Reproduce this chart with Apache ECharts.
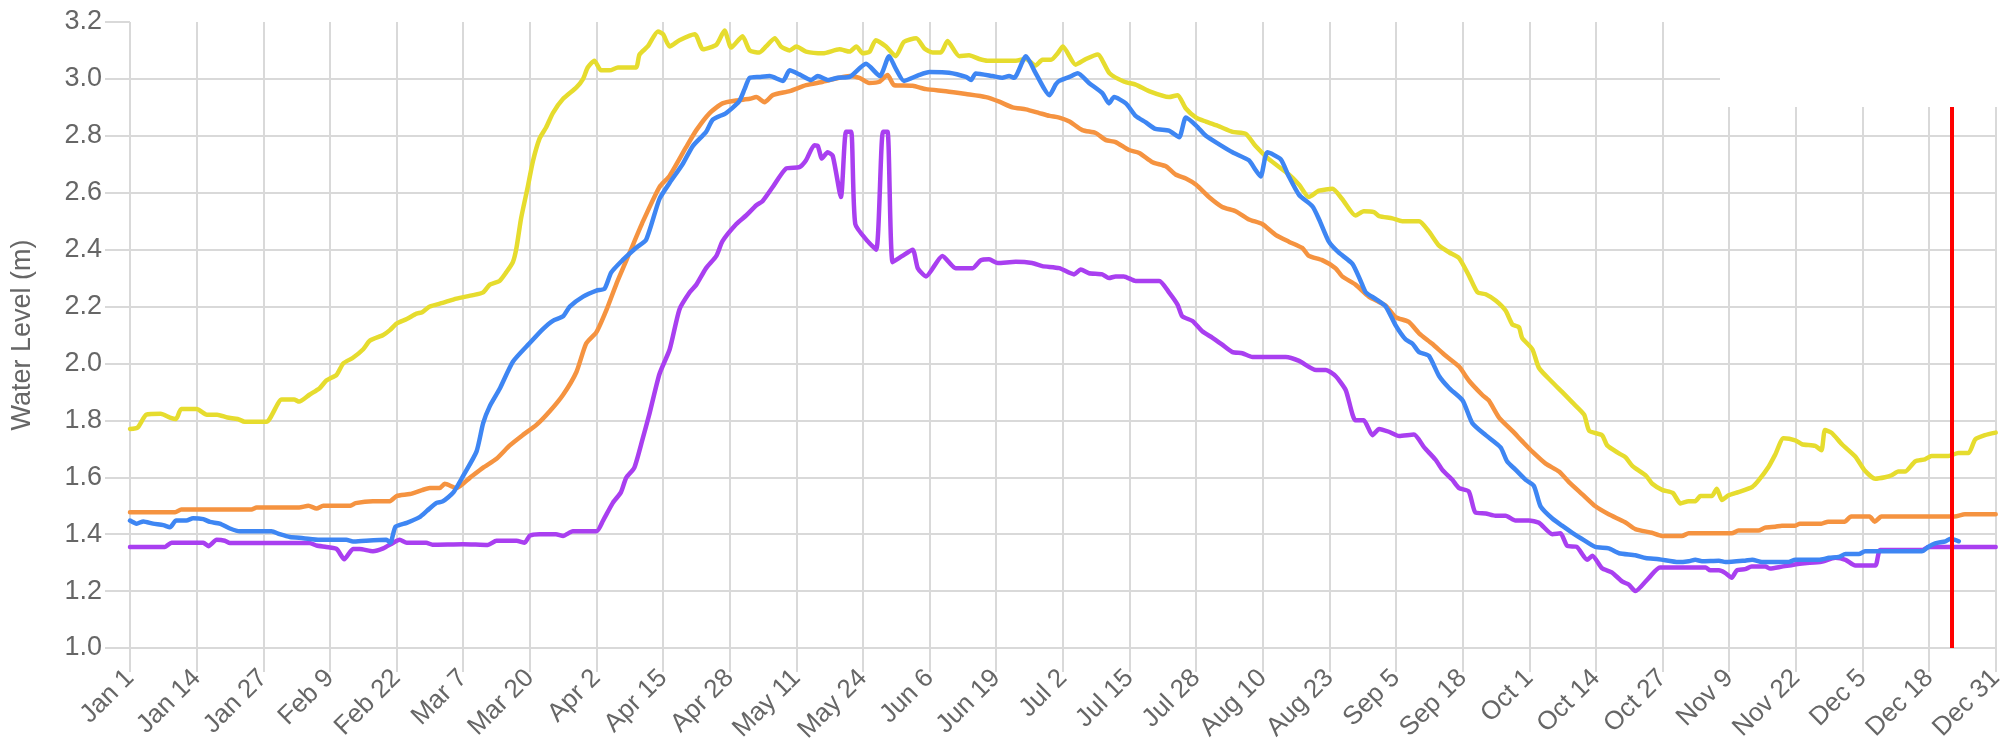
<!DOCTYPE html>
<html>
<head>
<meta charset="utf-8">
<script src="https://cdn.jsdelivr.net/npm/echarts@6/dist/echarts.min.js"></script>
<style>
html,body{margin:0;padding:0;background:#fff;}
#chart{width:2007px;height:752px;}
</style>
</head>
<body>
<div id="chart"></div>
<script>
// Tick labels (every 13 days from Jan 1)
const tickLabels = ['Jan 1','Jan 14','Jan 27','Feb 9','Feb 22','Mar 7','Mar 20','Apr 2','Apr 15','Apr 28','May 11','May 24','Jun 6','Jun 19','Jul 2','Jul 15','Jul 28','Aug 10','Aug 23','Sep 5','Sep 18','Oct 1','Oct 14','Oct 27','Nov 9','Nov 22','Dec 5','Dec 18','Dec 31'];
const yTicks = [1.0,1.2,1.4,1.6,1.8,2.0,2.2,2.4,2.6,2.8,3.0,3.2];
const todayMarker = 355.5; // day index of the red vertical line

// Yellow series (day of year index, water level m)
const yellowDays = [0,1.5,3.2,6,7.8,9,10,13,15,17,19,21,22.4,26.6,29.6,32,33,35,37,38.3,40.3,41.6,43.5,45.5,46.8,49.4,50.7,52,54,55.9,57,58.5,61,63.7,66.9,68.9,70.2,72.1,73.4,74.7,75.4,76.3,77.6,78.6,79.9,81.2,82.5,84.5,87.1,88.4,89.3,90.6,91.9,93.6,95.2,98.7,99.4,101,103,104,105.3,107.2,110.2,111.8,114.4,116,117.3,119.5,120.9,122.8,124.1,125.8,127,128.7,130,131.9,135.2,138.4,140.4,141.7,143,144.3,145.5,147.5,149.4,151,153.4,155,156.6,158.2,159.5,161.8,163.7,165.7,167.3,172.8,174.8,176.7,178,179.7,181,182,184.5,186.5,188.8,191.1,194,196.2,198.8,202.7,204.4,206,208,209.9,212.5,215.1,217.7,219.6,222.2,226.1,228.1,230,232,234.6,236.5,239.1,240.7,242.7,243.7,246.3,248.2,251.5,253.4,255.4,257.4,259.3,261.3,262.9,264.5,266.5,268.4,269.7,271,271.6,273.6,274.9,277.5,279.4,281.4,283.7,284.7,287.2,288.2,290.5,291.8,293.1,295.8,297,299,301,302.5,304.1,305.4,306.4,308.6,309.6,310.6,311.9,313.8,316.5,317.7,319.7,321,322.6,324.9,326.2,328.8,330,330.7,332,334,336.6,338.5,340.5,342.4,343.7,345,346.3,348.3,350.2,351.5,354.8,356.7,358.7,360,361.9,364];
const yellowLevels = [1.77,1.775,1.82,1.823,1.81,1.805,1.84,1.84,1.82,1.82,1.81,1.805,1.795,1.795,1.873,1.873,1.866,1.89,1.913,1.94,1.96,2.0,2.02,2.05,2.08,2.10,2.117,2.14,2.156,2.175,2.18,2.20,2.213,2.228,2.24,2.25,2.277,2.29,2.32,2.356,2.406,2.51,2.62,2.71,2.79,2.83,2.88,2.93,2.97,3.0,3.04,3.064,3.03,3.03,3.04,3.04,3.085,3.114,3.167,3.157,3.114,3.136,3.157,3.104,3.12,3.17,3.11,3.15,3.10,3.093,3.114,3.143,3.114,3.10,3.114,3.096,3.09,3.104,3.096,3.114,3.09,3.096,3.136,3.114,3.08,3.13,3.143,3.107,3.093,3.093,3.133,3.08,3.083,3.07,3.064,3.064,3.07,3.047,3.067,3.067,3.09,3.114,3.05,3.07,3.086,3.02,2.99,2.98,2.957,2.936,2.943,2.896,2.864,2.85,2.833,2.814,2.807,2.764,2.718,2.664,2.628,2.585,2.607,2.614,2.578,2.52,2.535,2.532,2.518,2.51,2.50,2.50,2.464,2.414,2.39,2.37,2.306,2.25,2.243,2.22,2.185,2.137,2.127,2.09,2.05,1.984,1.934,1.90,1.863,1.82,1.763,1.748,1.712,1.684,1.67,1.64,1.605,1.577,1.555,1.545,1.508,1.516,1.516,1.534,1.534,1.56,1.52,1.537,1.548,1.566,1.588,1.637,1.68,1.737,1.73,1.716,1.71,1.695,1.766,1.756,1.716,1.673,1.623,1.595,1.60,1.607,1.62,1.62,1.656,1.663,1.675,1.675,1.685,1.685,1.733,1.748,1.757];

// Orange series
const orangeDays = [0,8.8,10,23.7,24.7,33,34.8,36.4,37.7,43,44,47.4,50.7,52,54.6,57,58.5,60.4,61.4,63.7,66.3,68.9,71.5,74.1,76.6,79.3,81.8,84.5,87.1,89,91,93,94.9,97.5,100.1,103.3,105.3,108.5,110.5,113.1,115.6,118.3,120.9,122.2,123.8,125.4,128.7,131.9,135.2,138.4,140.4,142.3,144.2,146.2,147.8,149.1,152.7,155.3,159.2,163.1,167,169.6,172.2,174.8,177.4,179.4,181.3,183.3,185.8,188.4,190.4,192.3,194.9,196.9,199.5,202.1,204,206,208,210.5,213.1,215.7,218.3,220.9,223.5,226.1,228.7,230,232.6,235.2,236.5,239.1,241.7,245,246.9,249.5,251.5,254,256.7,259.3,261.2,263.8,265.1,267.1,269.7,271.6,273.6,276.2,278.8,280.7,283.3,285.9,288.5,291.7,293.7,296.9,298.9,302.8,304.1,312.5,313.8,317.7,319,321,322.3,324.9,325.8,330,331.3,334.5,335.8,339.4,340.4,341.7,356,358,364];
const orangeLevels = [1.477,1.477,1.487,1.487,1.494,1.494,1.50,1.49,1.50,1.50,1.509,1.516,1.516,1.534,1.541,1.555,1.562,1.562,1.577,1.562,1.598,1.634,1.665,1.712,1.748,1.784,1.83,1.89,1.97,2.07,2.11,2.19,2.28,2.39,2.50,2.62,2.66,2.76,2.82,2.88,2.914,2.924,2.93,2.936,2.918,2.943,2.957,2.978,2.99,3.004,3.01,3.004,2.986,2.99,3.014,2.978,2.976,2.964,2.957,2.947,2.936,2.92,2.90,2.893,2.88,2.87,2.864,2.85,2.82,2.81,2.785,2.778,2.75,2.74,2.707,2.693,2.664,2.65,2.628,2.585,2.55,2.535,2.506,2.49,2.452,2.428,2.406,2.378,2.363,2.335,2.306,2.277,2.235,2.203,2.163,2.146,2.106,2.07,2.027,1.989,1.94,1.89,1.87,1.81,1.763,1.727,1.69,1.648,1.62,1.584,1.541,1.498,1.47,1.442,1.418,1.405,1.394,1.394,1.403,1.403,1.413,1.413,1.423,1.426,1.43,1.43,1.437,1.437,1.444,1.444,1.462,1.462,1.444,1.462,1.462,1.47,1.47];

// Purple series
const purpleDays = [0,6.8,8.1,14.3,15.3,16.9,18.5,19.5,35,36.4,38.3,40.3,41.8,43.5,44.8,47.4,49.4,51.3,52.6,54,57.8,59,65,69.8,71.5,75.4,77,78,79.9,83.1,84.5,86.4,91,92.3,94.2,95.8,96.8,98.4,100,101.3,103.3,105.3,107.2,109.2,110.5,112.4,114.4,115.6,118.3,120.2,122.2,123.4,125.4,128,130.6,131.9,133.5,134.2,135,136.1,137.1,138.7,139.7,140.7,141.5,143.9,145.6,146.9,147.8,148.8,150.7,152.7,153.7,155.3,158.5,161.1,164.4,166,167.6,169.3,172.8,176,178,181.3,184.2,185.5,187.1,189.7,191,192.3,193.9,196.2,200.8,202.7,204.4,205.3,207.3,209.2,211.2,213.1,215.1,217,219,225.5,228.1,231.4,233.3,235.2,237.2,239.1,240.7,242.4,243.7,245.6,247.6,250.5,252.5,254.7,256,258,259.3,261.2,262.5,264.5,266.4,268.4,270.3,272.9,274.9,277.5,279.1,280.4,282.3,284.3,285.3,287.2,289.1,291.1,292.4,293.7,296.3,298.5,307.4,308.3,310,311.2,312.5,313.5,315.1,316.4,319.1,320,322.3,326.2,330,332.7,334.7,336.6,340.5,341.5,349.6,350.9,364];
const purpleLevels = [1.355,1.355,1.37,1.37,1.358,1.38,1.377,1.369,1.369,1.36,1.355,1.348,1.312,1.348,1.348,1.34,1.35,1.369,1.38,1.37,1.37,1.363,1.365,1.362,1.377,1.377,1.37,1.395,1.40,1.40,1.394,1.41,1.41,1.448,1.51,1.548,1.598,1.634,1.734,1.82,1.963,2.05,2.19,2.25,2.277,2.335,2.378,2.43,2.49,2.52,2.556,2.57,2.62,2.685,2.69,2.714,2.767,2.764,2.72,2.742,2.73,2.585,2.814,2.814,2.49,2.43,2.40,2.814,2.814,2.356,2.378,2.40,2.335,2.306,2.378,2.335,2.335,2.363,2.366,2.353,2.357,2.353,2.342,2.335,2.313,2.33,2.317,2.313,2.30,2.306,2.306,2.29,2.29,2.25,2.206,2.166,2.149,2.113,2.09,2.066,2.04,2.036,2.023,2.023,2.009,1.977,1.977,1.956,1.906,1.80,1.80,1.748,1.77,1.76,1.745,1.75,1.705,1.662,1.627,1.591,1.562,1.55,1.476,1.473,1.465,1.465,1.448,1.448,1.44,1.40,1.403,1.359,1.355,1.31,1.324,1.28,1.266,1.234,1.223,1.20,1.246,1.283,1.283,1.273,1.273,1.264,1.247,1.273,1.277,1.286,1.286,1.279,1.286,1.297,1.303,1.317,1.31,1.29,1.29,1.344,1.344,1.355,1.355];

// Blue series
const blueDays = [0,1.3,2.6,4.5,6.5,7.8,9,11,12.3,14.3,15.6,17.5,19.5,21.4,27.6,29.2,31.2,33.8,37,42.2,43.5,46,50,50.8,51.8,54,56.5,58,59.8,61,63.1,65,67.6,68.9,70.2,72.1,74.7,77.9,80.5,82.5,84.5,85.8,88.4,91,92.6,93.9,96.1,98.7,100.7,103.3,105.3,107.8,109.8,112.4,113.7,116.3,118.8,119.9,120.9,122.8,124.8,127.4,128.7,130.6,132.9,134.2,136.2,138.1,140.4,143.6,146.3,148.1,149.4,151,154,156,159.8,163.1,164.1,165,168.3,170.2,171.5,172.5,174.8,176.7,179.4,180.6,181.3,183.3,184.9,187.1,189.7,191,192,194.3,196.2,198.2,200.1,202.7,204.7,206,208,209.9,212.5,215.1,218.3,219.6,220.6,221.9,224.5,226.1,228.1,230.7,232,233.9,235.8,238.5,240.1,241.1,243,245,246.9,248.9,250.2,251.5,253.4,255.4,257.4,260,261.9,264.5,267.4,268.7,270.3,272.3,273.9,275.2,277.5,279.4,281.4,283.3,285.9,288.5,290.5,293.7,295.7,298.3,302.1,304.1,305.4,306.7,310,311.3,315.1,316.5,318.4,323.6,324.9,329.5,331.5,333.4,334.7,337.3,338.5,349.6,350.9,352.2,354.2,355.2,356.8];
const blueLevels = [1.448,1.437,1.445,1.437,1.432,1.424,1.448,1.448,1.456,1.453,1.443,1.437,1.42,1.41,1.41,1.40,1.39,1.386,1.38,1.38,1.374,1.377,1.38,1.37,1.426,1.44,1.46,1.483,1.51,1.515,1.547,1.605,1.69,1.79,1.85,1.91,2.006,2.07,2.12,2.15,2.166,2.20,2.235,2.256,2.263,2.32,2.363,2.406,2.435,2.578,2.635,2.70,2.764,2.814,2.857,2.88,2.92,2.964,3.004,3.007,3.01,2.993,3.03,3.016,2.996,3.01,2.996,3.004,3.007,3.053,3.01,3.08,3.036,2.993,3.014,3.024,3.022,3.007,2.996,3.019,3.01,3.004,3.01,3.004,3.08,3.02,2.943,2.98,2.993,3.007,3.02,2.986,2.95,2.914,2.936,2.914,2.87,2.847,2.824,2.818,2.795,2.864,2.836,2.80,2.77,2.742,2.714,2.68,2.657,2.742,2.718,2.657,2.592,2.552,2.506,2.428,2.39,2.35,2.29,2.25,2.227,2.20,2.135,2.084,2.07,2.04,2.027,1.956,1.913,1.87,1.79,1.748,1.705,1.655,1.627,1.591,1.57,1.498,1.455,1.43,1.405,1.383,1.355,1.35,1.333,1.326,1.316,1.312,1.302,1.305,1.31,1.305,1.307,1.302,1.307,1.31,1.302,1.302,1.31,1.31,1.317,1.32,1.33,1.33,1.34,1.34,1.356,1.368,1.375,1.384,1.375];

function pairs(days, vals){ return days.map((d,i)=>[d, vals[i]]); }

const gridColor = '#d9d9d9';
const textColor = '#666666';
const fontFamily = '"Liberation Sans", Arial, Helvetica, sans-serif';

const chart = echarts.init(document.getElementById('chart'), null, {renderer:'canvas'});

function lineSeries(name, days, vals, color, z){
  return {
    name, type:'line', data: pairs(days, vals), showSymbol:false, symbol:'none',
    smooth:0.2, z,
    lineStyle:{color, width:4.5, cap:'round', join:'round'},
    itemStyle:{color}
  };
}

const series = [
  lineSeries('Yellow', yellowDays, yellowLevels, '#e6dc2e', 2),
  lineSeries('Orange', orangeDays, orangeLevels, '#f59340', 3),
  lineSeries('Purple', purpleDays, purpleLevels, '#a93ff0', 4),
  lineSeries('Blue', blueDays, blueLevels, '#3e86f3', 5)
];
series[3].markLine = {
  silent:true, symbol:['none','none'], label:{show:false},
  lineStyle:{color:'#ff0000', width:4, type:'solid'},
  data:[{xAxis: todayMarker}],
  z: 10
};

chart.setOption({
  animation:false,
  backgroundColor:'#ffffff',
  grid:{left:130, right:10, top:22, bottom:104, containLabel:false},
  xAxis:{
    type:'value', min:0, max:364, interval:13,
    axisLine:{show:false},
    axisTick:{show:true, length:24, lineStyle:{color:gridColor, width:2}},
    splitLine:{show:true, lineStyle:{color:gridColor, width:2}},
    axisLabel:{
      rotate:45, margin:26, color:textColor, fontSize:26, fontFamily,
      formatter:(v)=>{ const i=Math.round(v/13); return tickLabels[i] || ''; }
    }
  },
  yAxis:{
    type:'value', min:yTicks[0], max:yTicks[yTicks.length-1], interval:0.2,
    name:'Water Level (m)', nameLocation:'middle', nameGap:94,
    nameTextStyle:{color:textColor, fontSize:27, fontFamily},
    axisLine:{show:false},
    axisTick:{show:true, length:25, lineStyle:{color:gridColor, width:2}},
    splitLine:{show:true, showMaxLine:false, lineStyle:{color:gridColor, width:2}},
    axisLabel:{margin:28, color:textColor, fontSize:27, fontFamily, formatter:(v)=>v.toFixed(1)}
  },
  graphic:[{
    type:'rect', z:100, silent:true,
    shape:{x:1720, y:0, width:287, height:107},
    style:{fill:'#ffffff'}
  }],
  series
});
</script>
</body>
</html>
